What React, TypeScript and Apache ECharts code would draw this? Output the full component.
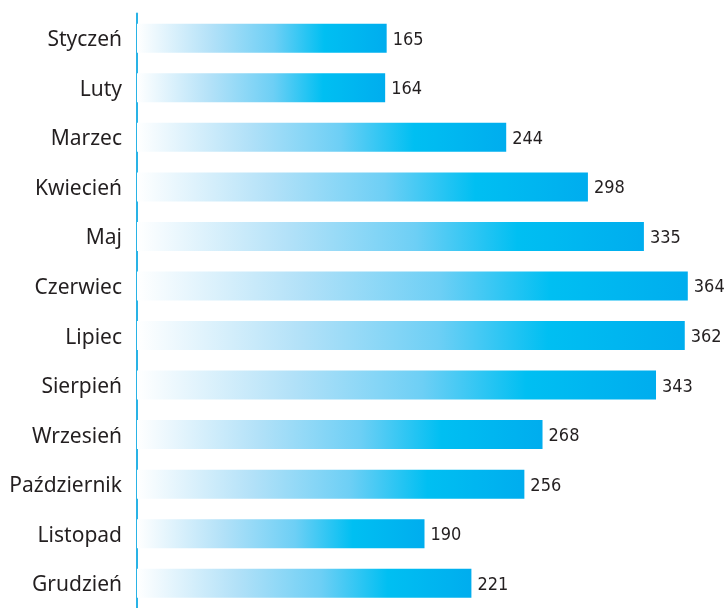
import React, { useEffect, useRef } from "react";
import * as echarts from "echarts";

const categories = [
  "Styczeń", "Luty", "Marzec", "Kwiecień", "Maj", "Czerwiec",
  "Lipiec", "Sierpień", "Wrzesień", "Październik", "Listopad", "Grudzień",
];
const values = [165, 164, 244, 298, 335, 364, 362, 343, 268, 256, 190, 221];

export default function App() {
  const ref = useRef<HTMLDivElement>(null);
  useEffect(() => {
    if (!ref.current) return;
    const chart = echarts.init(ref.current, undefined, { renderer: "svg" });
    chart.setOption({
      animation: false,
      grid: { left: 137, top: 13.5, width: 575, height: 600, containLabel: false },
      xAxis: { type: "value", min: 0, max: 380, show: false },
      yAxis: {
        type: "category",
        data: categories,
        inverse: true,
        axisTick: { show: false },
        axisLine: { show: true, lineStyle: { color: "#29b3e6", width: 2 } },
        axisLabel: {
          margin: 15,
          color: "#231f20",
          fontSize: 21,
          fontFamily: "Noto Sans",
        },
        splitLine: { show: false },
      },
      series: [
        {
          type: "bar",
          data: values,
          barWidth: 29,
          itemStyle: {
            color: new echarts.graphic.LinearGradient(0, 0, 1, 0, [
              { offset: 0, color: "#ffffff" },
              { offset: 0.3, color: "#b2e1f8" },
              { offset: 0.55, color: "#6dcff5" },
              { offset: 0.75, color: "#00bff2" },
              { offset: 1, color: "#00adee" },
            ]),
          },
          label: {
            show: true,
            position: "right",
            distance: 6,
            color: "#231f20",
            fontSize: 18,
            fontFamily: "'DejaVu Sans Condensed', 'Liberation Sans', sans-serif",
          },
        },
      ],
    });
    return () => chart.dispose();
  }, []);
  return (
    <div
      ref={ref}
      style={{ position: "fixed", left: 0, top: 0, width: 724, height: 608 }}
    />
  );
}
